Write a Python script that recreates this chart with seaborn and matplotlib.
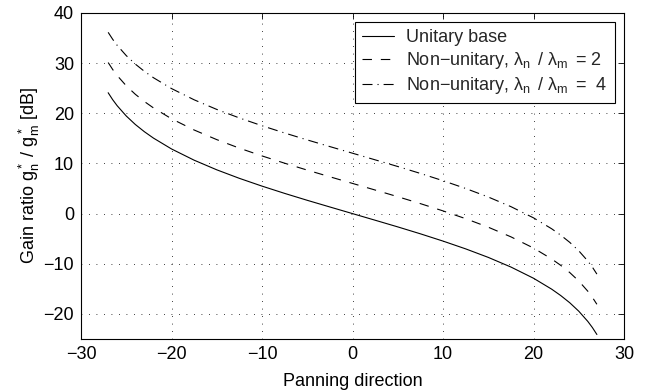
import matplotlib
matplotlib.use("Agg")
import matplotlib.pyplot as plt
import seaborn as sns
import pandas as pd

sns.set_theme(style="white")
plt.rcParams['font.family'] = ['Liberation Sans', 'DejaVu Sans']
plt.rcParams['mathtext.fontset'] = 'custom'
plt.rcParams['mathtext.rm'] = 'Liberation Sans'
plt.rcParams['mathtext.it'] = 'Liberation Sans'
plt.rcParams['mathtext.default'] = 'regular'
plt.rcParams['axes.unicode_minus'] = True

# Panning direction (degrees)
direction = [-27, -26.5, -26, -25, -24, -23, -22, -20, -17.5, -15, -12.5, -10, -7.5, -5, -2.5,
             0, 2.5, 5, 7.5, 10, 12.5, 15, 17.5, 20, 22, 23, 24, 25, 26, 26.5, 27]
# Gain ratio [dB]
unitary = [24.10, 22.71, 21.50, 19.46, 17.77, 16.33, 15.06, 12.89, 10.65, 8.73, 7.03, 5.48, 4.03, 2.65, 1.32,
           0.00, -1.32, -2.65, -4.03, -5.48, -7.03, -8.73, -10.65, -12.89, -15.06, -16.33, -17.77, -19.46, -21.50, -22.71, -24.10]
nonunit2 = [30.12, 28.73, 27.52, 25.48, 23.79, 22.35, 21.08, 18.91, 16.67, 14.75, 13.05, 11.50, 10.05, 8.67, 7.34,
            6.02, 4.70, 3.37, 1.99, 0.54, -1.01, -2.71, -4.63, -6.87, -9.04, -10.31, -11.75, -13.44, -15.48, -16.69, -18.08]
nonunit4 = [36.14, 34.75, 33.54, 31.50, 29.81, 28.37, 27.10, 24.93, 22.69, 20.77, 19.07, 17.52, 16.07, 14.69, 13.36,
            12.04, 10.72, 9.39, 8.01, 6.56, 5.01, 3.31, 1.39, -0.85, -3.02, -4.29, -5.73, -7.42, -9.46, -10.67, -12.06]

labels = ["Unitary base",
          "Non\u2212unitary, $\\lambda_n\\,$ / $\\lambda_m\\,$ = 2",
          "Non\u2212unitary, $\\lambda_n\\,$ / $\\lambda_m\\,$ =  4"]
styles = ["-", (0, (8.5, 8)), (0, (9, 4.5, 1, 4.5))]

FS = 13

fig = plt.figure(figsize=(6.45, 3.91), dpi=100)
ax = fig.add_axes([0.1256, 0.133, 0.8419, 0.8338])

for ys, lab, ls in zip([unitary, nonunit2, nonunit4], labels, styles):
    df = pd.DataFrame({"x": direction, "y": ys})
    sns.lineplot(data=df, x="x", y="y", ax=ax, color="black", linewidth=0.8,
                 linestyle=ls, label=lab, sort=False)

ax.set_xlim(-30, 30)
ax.set_ylim(-25, 40)
ax.set_xticks([-30, -20, -10, 0, 10, 20, 30])
ax.set_yticks([-20, -10, 0, 10, 20, 30, 40])
ax.tick_params(direction="in", length=4, width=0.6, top=True, right=True,
               labelsize=FS, colors="black", pad=5)
ax.grid(True, linestyle=(0, (1, 8)), color="black", linewidth=0.6)
for s in ax.spines.values():
    s.set_visible(True)
    s.set_color("black")
    s.set_linewidth(0.8)

ax.set_xlabel("Panning direction", fontsize=FS, color="black", labelpad=7)
ax.set_ylabel("Gain ratio g$_n^*$ / g$_m^*$ [dB]", fontsize=FS, color="black", labelpad=1)

leg = ax.legend(loc="upper right", fontsize=FS, frameon=True, fancybox=False,
                edgecolor="black", framealpha=1, handlelength=1.75, handletextpad=0.7,
                borderpad=0.4, labelspacing=0.22, borderaxespad=0.5)
leg.get_frame().set_linewidth(0.8)

fig.savefig("out.png", dpi=100)
